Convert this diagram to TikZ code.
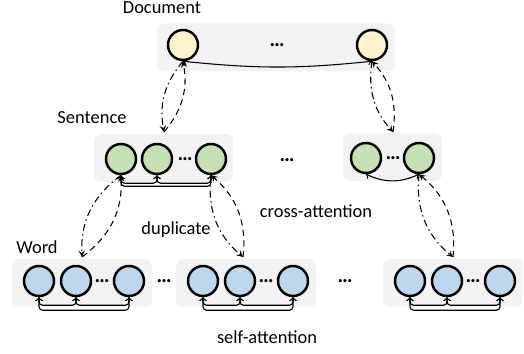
\documentclass[tikz,border=0pt]{standalone}
\usepackage{fontspec}
\setmainfont{Carlito}
\usepackage{tikz}
\definecolor{docfill}{HTML}{FFF2CC}
\definecolor{sentfill}{HTML}{C5E0B4}
\definecolor{wordfill}{HTML}{BDD7EE}
\definecolor{panelgray}{HTML}{F2F2F2}

\begin{document}
\begin{tikzpicture}[x=0.02cm,y=-0.02cm,
  font=\fontsize{10.5}{12}\selectfont,
  panel/.style={rectangle,rounded corners=4pt,fill=panelgray,minimum height=0.96cm},
  unit/.style={shape=circle,draw,line width=1.4pt,minimum size=0.6cm,inner sep=0pt},
  dots/.style={inner sep=0pt,font=\fontsize{12}{12}\selectfont\bfseries},
  dup/.style={-stealth,line width=0.6pt,dash pattern=on 4pt off 2pt on 0.8pt off 2pt},
  cross/.style={-stealth,line width=0.6pt,dash pattern=on 3.5pt off 2.5pt},
  attn/.style={<->,line width=0.6pt,rounded corners=2pt}]
\useasboundingbox (0,0) rectangle (524,354);
% panels
\node[panel,minimum width=4.76cm] (Dp) at (276,47.5) {};
\node[panel,minimum width=2.78cm] (Sp) at (163.5,158) {};
\node[panel,minimum width=1.98cm] (Tp) at (392.5,157) {};
\node[panel,minimum width=2.8cm] (Wp) at (82,283) {};
\node[panel,minimum width=2.8cm] (Xp) at (246,283) {};
\node[panel,minimum width=2.8cm] (Yp) at (453,283) {};
% document level
\node[unit,fill=docfill] (D1) at (183,45) {};
\node[unit,fill=docfill] (D2) at (372,45) {};
\node[dots] (dD) at (277,45) {…};
% sentence level
\node[unit,fill=sentfill] (S1) at (121,159) {};
\node[unit,fill=sentfill] (S2) at (157,159) {};
\node[unit,fill=sentfill] (S3) at (211,159) {};
\node[dots] (dS) at (185,159) {…};
\node[unit,fill=sentfill] (T1) at (366,158) {};
\node[unit,fill=sentfill] (T2) at (419,158) {};
\node[dots] (dT) at (393,158) {…};
\node[dots] (dM) at (287,160) {…};
% word level
\node[unit,fill=wordfill] (W1) at (39,281) {};
\node[unit,fill=wordfill] (W2) at (76,281) {};
\node[unit,fill=wordfill] (W3) at (129,281) {};
\node[dots] (dW) at (102,281) {…};
\node[unit,fill=wordfill] (X1) at (203,281) {};
\node[unit,fill=wordfill] (X2) at (240,281) {};
\node[unit,fill=wordfill] (X3) at (293,281) {};
\node[dots] (dX) at (266,281) {…};
\node[unit,fill=wordfill] (Y1) at (410,281) {};
\node[unit,fill=wordfill] (Y2) at (447,281) {};
\node[unit,fill=wordfill] (Y3) at (500,281) {};
\node[dots] (dY) at (473,281) {…};
\node[dots] (dWX) at (164,281) {…};
\node[dots] (dXY) at (345,281) {…};
% labels
\node (doc) at (162,8) {Document};
\node (sent) at (92,118) {Sentence};
\node (word) at (37,247) {Word};
\node (dupl) at (176,230) {duplicate};
\node (cross) at (316,211) {cross-attention};
\node (self) at (267,337) {self-attention};
% arrow ends on the lower panels
\coordinate (a1) at (164,132);
\coordinate (a2) at (393,132);
\coordinate (b1) at (82,257);
\coordinate (b2) at (243,257);
\coordinate (b3) at (453,257);
\draw [dup] (D1.south) to[bend right=25] (a1);
\draw [cross] (a1) to[bend right=25] (D1.south);
\draw [dup] (D2.south) to[bend right=25] (a2);
\draw [cross] (a2) to[bend right=25] (D2.south);
\draw [dup] (S1.south) to[bend right=28] (b1);
\draw [cross] (b1) to[bend right=28] (S1.south);
\draw [dup] (S3.south) to[bend right=28] (b2);
\draw [cross] (b2) to[bend right=28] (S3.south);
\draw [dup] (T2.south) to[bend right=28] (b3);
\draw [cross] (b3) to[bend right=28] (T2.south);
% self-attention links
\draw [<->,line width=0.6pt] (D1.south) to[bend right=6] (D2.south);
\draw [<->,line width=0.6pt] (T1.south) to[bend right=25] (T2.south);
\draw [attn] (S1.south) -- ++(0,11) -| (S3.south);
\draw [attn] (S1.south) -- ++(0,8) -| (S2.south);
\draw [attn] (S2.south) -- ++(0,8) -| (S3.south);
\draw [attn] (W1.south) -- ++(0,13) -| (W3.south);
\draw [attn] (W1.south) -- ++(0,8) -| (W2.south);
\draw [attn] (W2.south) -- ++(0,8) -| (W3.south);
\draw [attn] (X1.south) -- ++(0,13) -| (X3.south);
\draw [attn] (X1.south) -- ++(0,8) -| (X2.south);
\draw [attn] (X2.south) -- ++(0,8) -| (X3.south);
\draw [attn] (Y1.south) -- ++(0,13) -| (Y3.south);
\draw [attn] (Y1.south) -- ++(0,8) -| (Y2.south);
\draw [attn] (Y2.south) -- ++(0,8) -| (Y3.south);
\end{tikzpicture}
\end{document}
